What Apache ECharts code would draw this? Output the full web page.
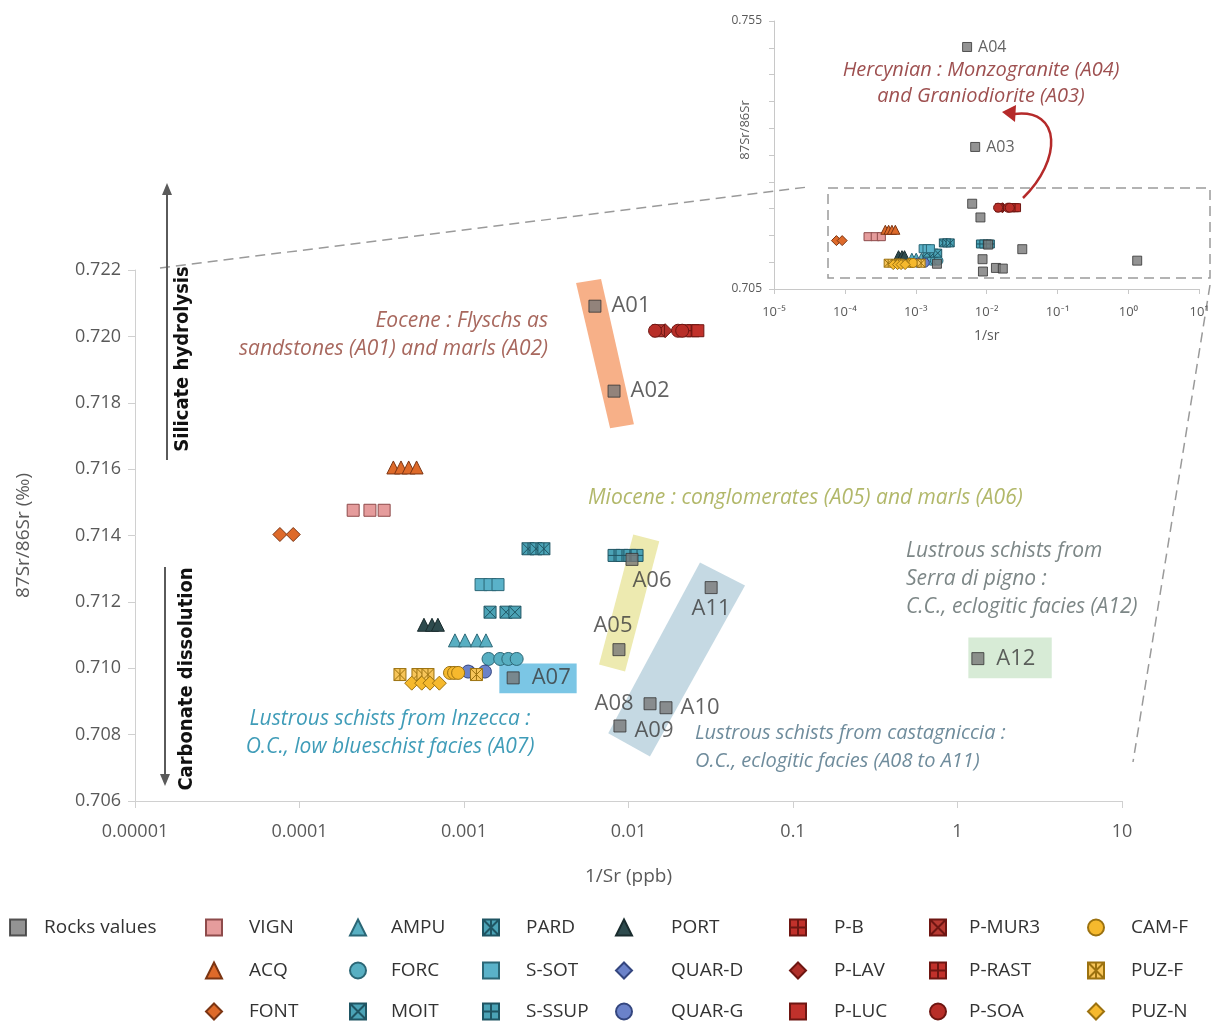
<!DOCTYPE html>
<html>
<head>
<meta charset="utf-8">
<script src="https://cdn.jsdelivr.net/npm/echarts@6/dist/echarts.min.js"></script>
<style>
  html, body { margin: 0; padding: 0; background: #fff; }
  #chart { width: 1212px; height: 1029px; }
</style>
</head>
<body>
<div id="chart"></div>
<script>
// ---- data (x = 1/Sr, y = 87Sr/86Sr) ----
const rockNames = ['A01', 'A02', 'A03', 'A04', 'A05', 'A06', 'A07', 'A08', 'A09', 'A10', 'A11', 'A12'];
const rockX = [0.00625, 0.00817, 0.00689, 0.0053, 0.00875, 0.0105, 0.00199, 0.01352, 0.00887, 0.0169, 0.0318, 1.33];
const rockY = [0.72091, 0.71835, 0.7315, 0.75015, 0.71056, 0.71328, 0.70971, 0.70893, 0.70826, 0.70881, 0.71243, 0.71029];

const VIGN = [[0.000212, 0.71476], [0.000268, 0.71476], [0.000327, 0.71476]];
const ACQ = [[0.000372, 0.71605], [0.000414, 0.71605], [0.000461, 0.71605], [0.000515, 0.71605]];
const FONT = [[0.000076, 0.71403], [0.0000916, 0.71403]];
const AMPU = [[0.000881, 0.71084], [0.001014, 0.71084], [0.0012, 0.71084], [0.00136, 0.71084]];
const FORC = [[0.00141, 0.71028], [0.00166, 0.71028], [0.00186, 0.71028], [0.00209, 0.71028]];
const MOIT = [[0.00144, 0.71169], [0.0018, 0.71169], [0.00204, 0.71169]];
const PARD = [[0.00245, 0.7136], [0.00274, 0.7136], [0.00306, 0.7136]];
const S_SOT = [[0.00127, 0.71252], [0.00144, 0.71252], [0.00161, 0.71252]];
const S_SSUP = [[0.00817, 0.7134], [0.00913, 0.7134], [0.0102, 0.7134], [0.01127, 0.7134]];
const PORT = [[0.000571, 0.71131], [0.000639, 0.71131], [0.000694, 0.71131]];
const QUAR_D = [[0.00112, 0.70986]];
const QUAR_G = [[0.00106, 0.7099], [0.00134, 0.7099]];
const P_B = [[0.0247, 0.72017]];
const P_LAV = [[0.0167, 0.72017]];
const P_LUC = [[0.0264, 0.72017]];
const P_MUR3 = [[0.0152, 0.72017]];
const P_RAST = [[0.0221, 0.72017]];
const P_SOA = [[0.0145, 0.72017], [0.02, 0.72017], [0.0212, 0.72017]];
const CAM_F = [[0.000822, 0.70986], [0.00087, 0.70986], [0.000921, 0.70986]];
const PUZ_F = [[0.000408, 0.70981], [0.000525, 0.70981], [0.000563, 0.70981], [0.000604, 0.70981], [0.00119, 0.70981]];
const PUZ_N = [[0.000481, 0.70955], [0.000553, 0.70955], [0.000621, 0.70955], [0.000708, 0.70955]];

// highlighted zones, corners in data units
const zoneA01A02 = [[0.0048, 0.72161], [0.00681, 0.72173], [0.01079, 0.71735], [0.00773, 0.71723]];
const zoneA05A06 = [[0.01069, 0.71403], [0.01538, 0.71383], [0.00953, 0.7099], [0.00662, 0.71011]];
const zoneA08A11 = [[0.0272, 0.71319], [0.0511, 0.71249], [0.0135, 0.70734], [0.00753, 0.70804]];
const zoneA07 = [[0.00164, 0.71014], [0.00484, 0.71014], [0.00484, 0.70925], [0.00164, 0.70925]];
const zoneA12 = [[1.164, 0.71093], [3.74, 0.71093], [3.74, 0.7097], [1.164, 0.7097]];

const FONT_FAMILY = '"Open Sans", Lato, sans-serif';
const NARROW = '"Liberation Sans Narrow", "DejaVu Sans Condensed", "Roboto Condensed", sans-serif';

const SQ_X = 'path://M0,0H10V10H0Z M0,0L10,10 M10,0L0,10';
const SQ_PLUS = 'path://M0,0H10V10H0Z M5,0V10 M0,5H10';
const SQ_STAR = 'path://M0,0H10V10H0Z M0,0L10,10 M10,0L0,10 M5,0V10';

// name, data, symbol, fill, border, size
const groups = [
  ['VIGN', VIGN, 'rect', '#E59C9C', '#8E4B4B', 12],
  ['ACQ', ACQ, 'triangle', '#DE6A2A', '#7B3513', 13],
  ['FONT', FONT, 'diamond', '#DE6A2A', '#7B3513', 14],
  ['AMPU', AMPU, 'triangle', '#58AFC2', '#2B6776', 13],
  ['FORC', FORC, 'circle', '#58AFC2', '#2B6776', 13],
  ['MOIT', MOIT, SQ_X, '#4BA3B6', '#1F5563', 12],
  ['PARD', PARD, SQ_STAR, '#4BA3B6', '#1F5563', 12],
  ['S-SOT', S_SOT, 'rect', '#5AB2C9', '#2B6776', 12],
  ['S-SSUP', S_SSUP, SQ_PLUS, '#4BA3B6', '#1F5563', 12],
  ['PORT', PORT, 'triangle', '#2E4B4E', '#1A2C2E', 13],
  ['QUAR-D', QUAR_D, 'diamond', '#6B82C9', '#34467F', 14],
  ['QUAR-G', QUAR_G, 'circle', '#6B82C9', '#34467F', 13],
  ['P-B', P_B, SQ_PLUS, '#C1312B', '#6E1612', 12],
  ['P-LAV', P_LAV, 'diamond', '#B0302A', '#6E1612', 14],
  ['P-LUC', P_LUC, 'rect', '#C1312B', '#6E1612', 12],
  ['P-MUR3', P_MUR3, SQ_X, '#B83A32', '#6E1612', 12],
  ['P-RAST', P_RAST, SQ_PLUS, '#C1312B', '#6E1612', 12],
  ['P-SOA', P_SOA, 'circle', '#B82E28', '#6E1612', 13],
  ['CAM-F', CAM_F, 'circle', '#F6B92D', '#9C7210', 13],
  ['PUZ-F', PUZ_F, SQ_STAR, '#F7C55A', '#9C7210', 12],
  ['PUZ-N', PUZ_N, 'diamond', '#F6B92D', '#9C7210', 14]
];

const zones = [
  [zoneA01A02, '#F7B088'],
  [zoneA05A06, '#EDEAB0'],
  [zoneA08A11, '#C5D9E3'],
  [zoneA07, '#7BC6E5'],
  [zoneA12, '#D7EBD6']
];

const rockLabel = {
  A01: { position: 'right', distance: 10 },
  A02: { position: 'right', distance: 10 },
  A05: { position: 'top', distance: 6, offset: [-6, 0] },
  A06: { position: 'bottom', distance: 4, offset: [20, 0] },
  A07: { position: 'right', distance: 12 },
  A08: { position: 'left', distance: 10 },
  A09: { position: 'right', distance: 8, offset: [0, 5] },
  A10: { position: 'right', distance: 8 },
  A11: { position: 'bottom', distance: 4 },
  A12: { position: 'right', distance: 12 }
};

const sup = { '-': '\u207B', '0': '\u2070', '1': '\u00B9', '2': '\u00B2', '3': '\u00B3', '4': '\u2074', '5': '\u2075' };
const decimalLabel = v => {
  const e = Math.round(Math.log10(v));
  return e < 0 ? '0.' + '0'.repeat(-e - 1) + '1' : '1' + '0'.repeat(e);
};
const powerLabel = v => {
  const e = String(Math.round(Math.log10(v)));
  return '10' + e.split('').map(c => sup[c]).join('');
};

const chart = echarts.init(document.getElementById('chart'));

const series = [];
series.push({
  type: 'custom',
  xAxisIndex: 0,
  yAxisIndex: 0,
  z: 1,
  silent: true,
  encode: { x: [0, 2, 4, 6], y: [1, 3, 5, 7] },
  data: zones.map(z => z[0].flat()),
  renderItem: (params, api) => {
    const pts = [0, 1, 2, 3].map(k => api.coord([api.value(2 * k), api.value(2 * k + 1)]));
    return { type: 'polygon', shape: { points: pts }, style: { fill: zones[params.dataIndex][1] } };
  }
});

groups.forEach(g => {
  [0, 1].forEach(ix => {
    series.push({
      name: g[0],
      type: 'scatter',
      xAxisIndex: ix,
      yAxisIndex: ix,
      z: 3,
      symbol: g[2],
      symbolSize: ix === 0 ? g[5] : Math.round(g[5] * 0.7),
      itemStyle: { color: g[3], borderColor: g[4], borderWidth: 1, opacity: 1 },
      data: g[1]
    });
  });
});

// rocks, main chart (A03/A04 are above its range)
series.push({
  name: 'Rocks values',
  type: 'scatter',
  xAxisIndex: 0,
  yAxisIndex: 0,
  z: 4,
  symbol: 'rect',
  symbolSize: 12,
  itemStyle: { color: '#787878', borderColor: '#333', borderWidth: 1 },
  label: { show: true, formatter: '{b}', fontSize: 22, color: '#3b3b3b', fontFamily: FONT_FAMILY },
  data: rockNames.map((n, i) => ({ name: n, value: [rockX[i], rockY[i]], label: rockLabel[n] }))
    .filter(d => d.value[1] <= 0.722)
});
// rocks, inset
series.push({
  name: 'Rocks values',
  type: 'scatter',
  xAxisIndex: 1,
  yAxisIndex: 1,
  z: 4,
  symbol: 'rect',
  symbolSize: 9,
  itemStyle: { color: '#787878', borderColor: '#333', borderWidth: 1 },
  label: { show: false, formatter: '{b}', position: 'right', distance: 6, fontSize: 16, color: '#3b3b3b', fontFamily: FONT_FAMILY },
  data: rockNames.map((n, i) => ({
    name: n, value: [rockX[i], rockY[i]],
    label: { show: n === 'A03' || n === 'A04' }
  }))
});

// legend: one small legend per entry (icon centre x, text start x)
const legendCols = [
  { names: ['Rocks values'], icon: 17, text: 43 },
  { names: ['VIGN', 'ACQ', 'FONT'], icon: 213, text: 248 },
  { names: ['AMPU', 'FORC', 'MOIT'], icon: 357, text: 390 },
  { names: ['PARD', 'S-SOT', 'S-SSUP'], icon: 490, text: 525 },
  { names: ['PORT', 'QUAR-D', 'QUAR-G'], icon: 623, text: 670 },
  { names: ['P-B', 'P-LAV', 'P-LUC'], icon: 797, text: 833 },
  { names: ['P-MUR3', 'P-RAST', 'P-SOA'], icon: 937, text: 968 },
  { names: ['CAM-F', 'PUZ-F', 'PUZ-N'], icon: 1095, text: 1130 }
];
const legendRows = [929, 972, 1013];
const legends = [];
legendCols.forEach(c => {
  c.names.forEach((n, r) => {
    legends.push({
      left: c.icon - 8,
      top: legendRows[r] - 11,
      padding: 0,
      itemWidth: 16,
      itemHeight: 16,
      selectedMode: false,
      data: [n],
      formatter: name => '{t|' + name + '}',
      textStyle: {
        rich: {
          t: { fontSize: 19, lineHeight: 22, color: '#333', fontFamily: FONT_FAMILY, padding: [0, 0, 0, c.text - c.icon - 13] }
        }
      }
    });
  });
});

const axisGrey = '#D0D0D0';
const italic = (text, x, y, color, size, align) => ({
  type: 'text', x: x, y: y, silent: true,
  style: {
    text: text, fill: color, align: align || 'left', verticalAlign: 'middle',
    font: 'italic ' + size + 'px ' + FONT_FAMILY
  }
});

chart.setOption({
  animation: false,
  backgroundColor: '#fff',
  textStyle: { fontFamily: FONT_FAMILY },
  grid: [
    { left: 135, top: 270, width: 987, height: 531 },
    { left: 774, top: 21, width: 436, height: 268 }
  ],
  legend: legends,
  xAxis: [
    {
      gridIndex: 0, type: 'log', logBase: 10, min: 0.00001, max: 10, splitNumber: 6,
      name: '1/Sr (ppb)', nameLocation: 'middle', nameGap: 66, nameMoveOverlap: false,
      nameTextStyle: { fontSize: 19, color: '#595959' },
      axisLine: { lineStyle: { color: axisGrey } },
      axisTick: { lineStyle: { color: axisGrey }, length: 7 },
      splitLine: { show: false },
      axisLabel: { formatter: decimalLabel, fontSize: 18, color: '#595959', margin: 22 }
    },
    {
      gridIndex: 1, type: 'log', logBase: 10, min: 0.00001, max: 10, splitNumber: 6,
      name: '1/sr', nameLocation: 'middle', nameGap: 40, nameMoveOverlap: false,
      nameTextStyle: { fontSize: 14, color: '#595959' },
      axisLine: { lineStyle: { color: '#C8C8C8' } },
      axisTick: { lineStyle: { color: '#C8C8C8' }, length: 5 },
      splitLine: { show: false },
      axisLabel: { formatter: powerLabel, fontSize: 13, color: '#595959', margin: 17 }
    }
  ],
  yAxis: [
    {
      gridIndex: 0, type: 'value', min: 0.706, max: 0.722, interval: 0.002,
      name: '87Sr/86Sr (\u2030)', nameLocation: 'middle', nameGap: 102, nameMoveOverlap: false,
      nameTextStyle: { fontSize: 19, color: '#595959' },
      axisLine: { show: true, lineStyle: { color: axisGrey } },
      axisTick: { show: true, lineStyle: { color: axisGrey }, length: 7 },
      splitLine: { show: false },
      axisLabel: { formatter: v => v.toFixed(3), fontSize: 18, color: '#595959', margin: 14 }
    },
    {
      gridIndex: 1, type: 'value', min: 0.705, max: 0.755, interval: 0.005,
      name: '87Sr/86Sr', nameLocation: 'middle', nameGap: 22, nameMoveOverlap: false,
      nameTextStyle: { fontSize: 13, color: '#595959', padding: [0, 0, 0, 50] },
      axisLine: { show: true, lineStyle: { color: '#C8C8C8' } },
      axisTick: { show: true, lineStyle: { color: '#C8C8C8' }, length: 5 },
      splitLine: { show: false },
      axisLabel: {
        formatter: v => (Math.abs(v - 0.705) < 1e-6 || Math.abs(v - 0.755) < 1e-6) ? v.toFixed(3) : '',
        fontSize: 12, color: '#595959', margin: 12
      }
    }
  ],
  graphic: [
    // zoom connectors and inset frame
    { type: 'line', silent: true, shape: { x1: 160, y1: 268, x2: 808, y2: 187 }, style: { stroke: '#9A9A9A', lineWidth: 1.5, lineDash: [10, 6] } },
    { type: 'rect', silent: true, shape: { x: 828, y: 188, width: 382, height: 90 }, style: { fill: null, stroke: '#9A9A9A', lineWidth: 1.5, lineDash: [10, 6] } },
    { type: 'line', silent: true, shape: { x1: 1210, y1: 285, x2: 1133, y2: 762 }, style: { stroke: '#9A9A9A', lineWidth: 1.5, lineDash: [10, 6] } },
    // curved red arrow
    { type: 'bezierCurve', silent: true, shape: { x1: 1023, y1: 198, cpx1: 1062, cpy1: 160, cpx2: 1062, cpy2: 108, x2: 1014, y2: 114 }, style: { stroke: '#B52A2A', lineWidth: 2.5, fill: null } },
    { type: 'polygon', silent: true, shape: { points: [[1002, 112], [1016, 105], [1015, 122]] }, style: { fill: '#B52A2A' } },
    // process arrows
    { type: 'line', silent: true, shape: { x1: 167, y1: 460, x2: 167, y2: 192 }, style: { stroke: '#5A5A5A', lineWidth: 2 } },
    { type: 'polygon', silent: true, shape: { points: [[167, 183], [162, 195], [172, 195]] }, style: { fill: '#5A5A5A' } },
    { type: 'line', silent: true, shape: { x1: 165, y1: 567, x2: 165, y2: 776 }, style: { stroke: '#5A5A5A', lineWidth: 2 } },
    { type: 'polygon', silent: true, shape: { points: [[165, 786], [160, 774], [170, 774]] }, style: { fill: '#5A5A5A' } },
    {
      type: 'text', silent: true, x: 183, y: 359, rotation: Math.PI / 2,
      style: { text: 'Silicate hydrolysis', align: 'center', verticalAlign: 'middle', fill: '#111', font: 'bold 20px ' + NARROW }
    },
    {
      type: 'text', silent: true, x: 187, y: 679, rotation: Math.PI / 2,
      style: { text: 'Carbonate dissolution', align: 'center', verticalAlign: 'middle', fill: '#111', font: 'bold 20px ' + NARROW }
    },
    // annotations
    italic('Eocene : Flyschs as', 548, 321, '#A8685E', 21, 'right'),
    italic('sandstones (A01) and marls (A02)', 548, 349, '#A8685E', 21, 'right'),
    italic('Hercynian : Monzogranite (A04)', 981, 70, '#9E5050', 20, 'center'),
    italic('and Graniodiorite (A03)', 981, 96, '#9E5050', 20, 'center'),
    italic('Miocene : conglomerates (A05) and marls (A06)', 588, 498, '#B2B86A', 21),
    italic('Lustrous schists from', 906, 551, '#7D8787', 21),
    italic('Serra di pigno :', 906, 579, '#7D8787', 21),
    italic('C.C., eclogitic facies (A12)', 906, 607, '#7D8787', 21),
    italic('Lustrous schists from Inzecca :', 390, 719, '#3F9CB8', 21, 'center'),
    italic('O.C., low blueschist facies (A07)', 390, 747, '#3F9CB8', 21, 'center'),
    italic('Lustrous schists from castagniccia :', 695, 733, '#6F8C9C', 20),
    italic('O.C., eclogitic facies (A08 to A11)', 695, 761, '#6F8C9C', 20)
  ],
  series: series
});
</script>
</body>
</html>
